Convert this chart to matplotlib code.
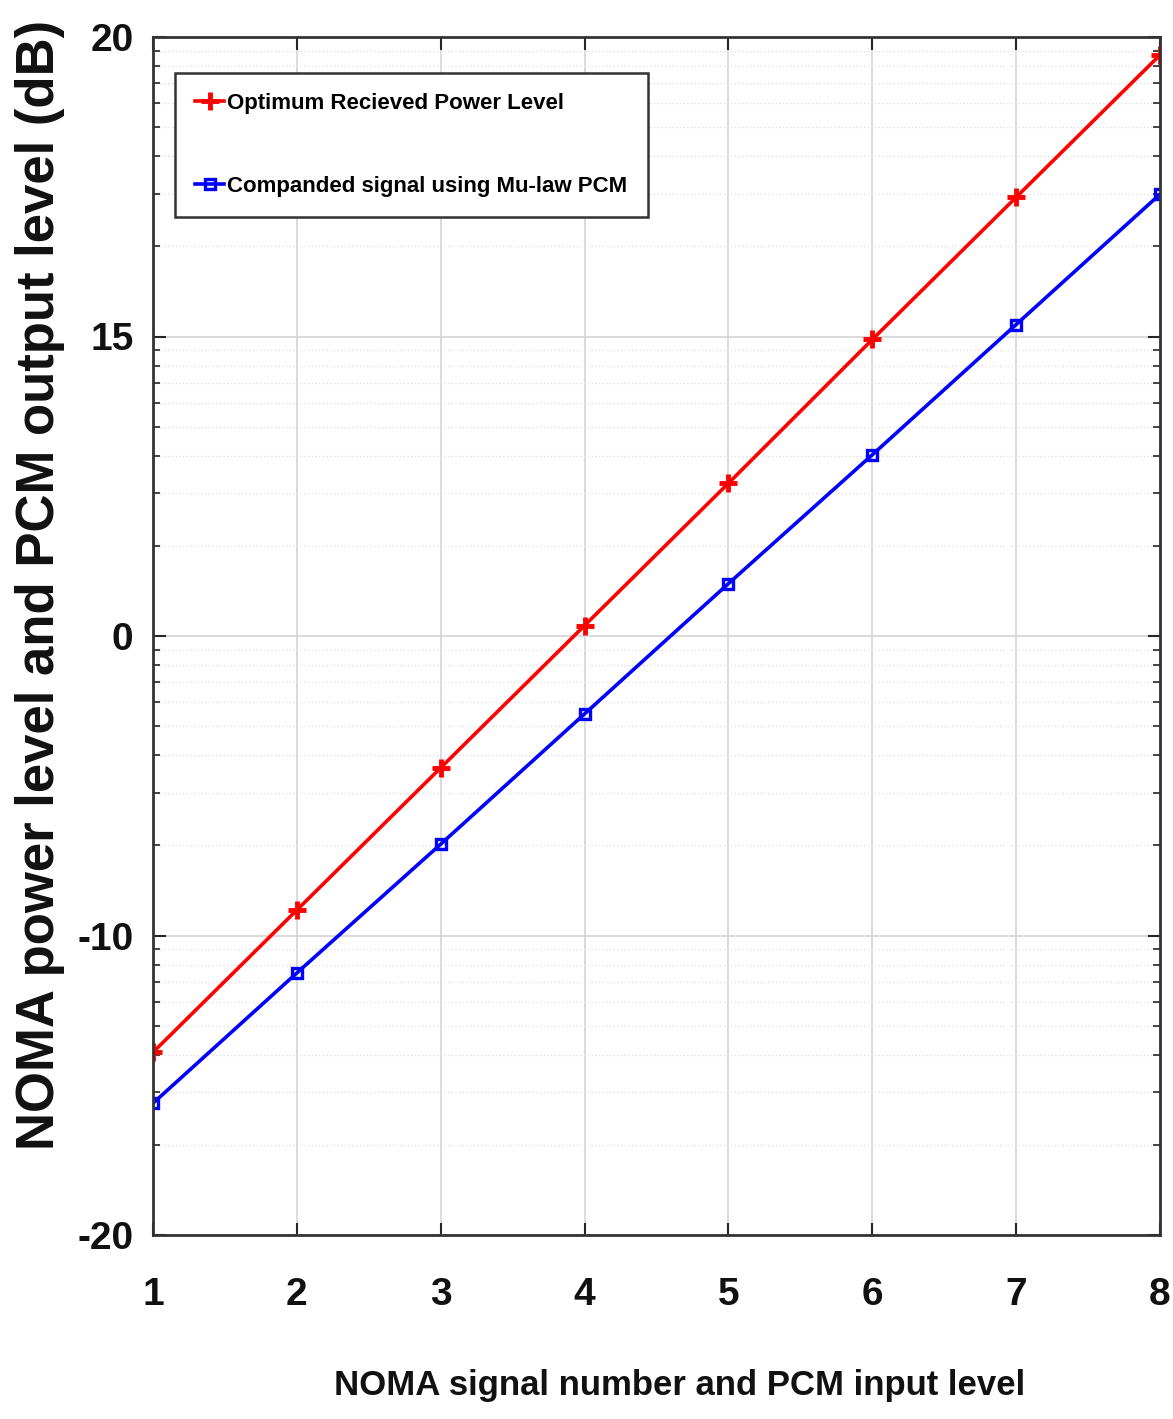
import numpy as np
import matplotlib
matplotlib.use('Agg')
import matplotlib.pyplot as plt
from matplotlib.ticker import FixedLocator

plt.rcParams['font.family'] = ['Liberation Sans', 'DejaVu Sans']

# input level / signal number
levels = [1, 2, 3, 4, 5, 6, 7, 8]
# optimum received power (dB)
optimum_power = [-13.9, -9.15, -4.4, 0.35, 5.1, 9.9, 14.65, 19.4]
# mu-law companded PCM output (dB)
companded = [-15.6, -11.25, -6.95, -2.6, 1.75, 6.05, 10.4, 14.75]

ytick_pos = [-20, -10, 0, 10, 20]
ytick_labels = ['-20', '-10', '0', '15', '20']

fig = plt.figure(figsize=(11.73, 14.19), dpi=100)
ax = fig.add_axes([153 / 1173, 1 - 1235 / 1419, 1007 / 1173, 1198 / 1419])

ax.plot(levels, optimum_power, color='#ff0000', lw=2.6, marker='+', ms=13, mew=3.5,
        label='Optimum Recieved Power Level')
ax.plot(levels, companded, color='#0000ff', lw=2.6, marker='s', ms=7, mew=2.4,
        mfc='none', label='Companded signal using Mu-law PCM')

ax.set_xlim(1, 8)
ax.set_ylim(-20, 20)
ax.set_xticks(levels)
ax.set_yticks(ytick_pos)
ax.set_yticklabels(ytick_labels)

# log-style minor ticks inside each 10 dB band
minor = []
for lo in ytick_pos[:-1]:
    for m in range(2, 10):
        minor.append(lo + 10 * np.log10(m))
ax.yaxis.set_minor_locator(FixedLocator(minor))

ax.grid(True, which='major', color='#d4d4d4', lw=1.2)
ax.grid(True, which='minor', axis='y', color='#e2e2e2', lw=1.0, ls=':')
ax.set_axisbelow(True)

ax.tick_params(which='both', direction='in', top=True, right=True, colors='#262626')
ax.tick_params(which='major', length=9, width=1.5, labelsize=28)
ax.tick_params(which='minor', length=5, width=1.2)
ax.tick_params(axis='x', which='major', pad=30)
ax.tick_params(axis='y', which='major', pad=14)
for lbl in ax.get_xticklabels() + ax.get_yticklabels():
    lbl.set_color('#111111')
    lbl.set_fontweight('bold')
for sp in ax.spines.values():
    sp.set_color('#333333')
    sp.set_linewidth(2)

ax.set_xlabel('NOMA signal number and PCM input level', fontsize=25,
              fontweight='bold', color='#111111', va='center')
ax.xaxis.set_label_coords((680 - 153) / 1007, -(1385 - 1235) / 1198)
ax.set_ylabel('NOMA power level and PCM output level (dB)', fontsize=38,
              fontweight='bold', color='#111111', va='center')
ax.yaxis.set_label_coords((40 - 153) / 1007, 1 - (585 - 37) / 1198)

leg = ax.legend(loc='upper left', bbox_to_anchor=(0.022, 0.970), fontsize=16,
                handlelength=1.3, handletextpad=0.15, borderpad=0.9,
                labelspacing=2.8, borderaxespad=0, fancybox=False, framealpha=1)
leg.get_frame().set_edgecolor('#333333')
leg.get_frame().set_linewidth(1.8)
for t in leg.get_texts():
    t.set_fontweight('bold')

fig.savefig('out.png', dpi=100)
